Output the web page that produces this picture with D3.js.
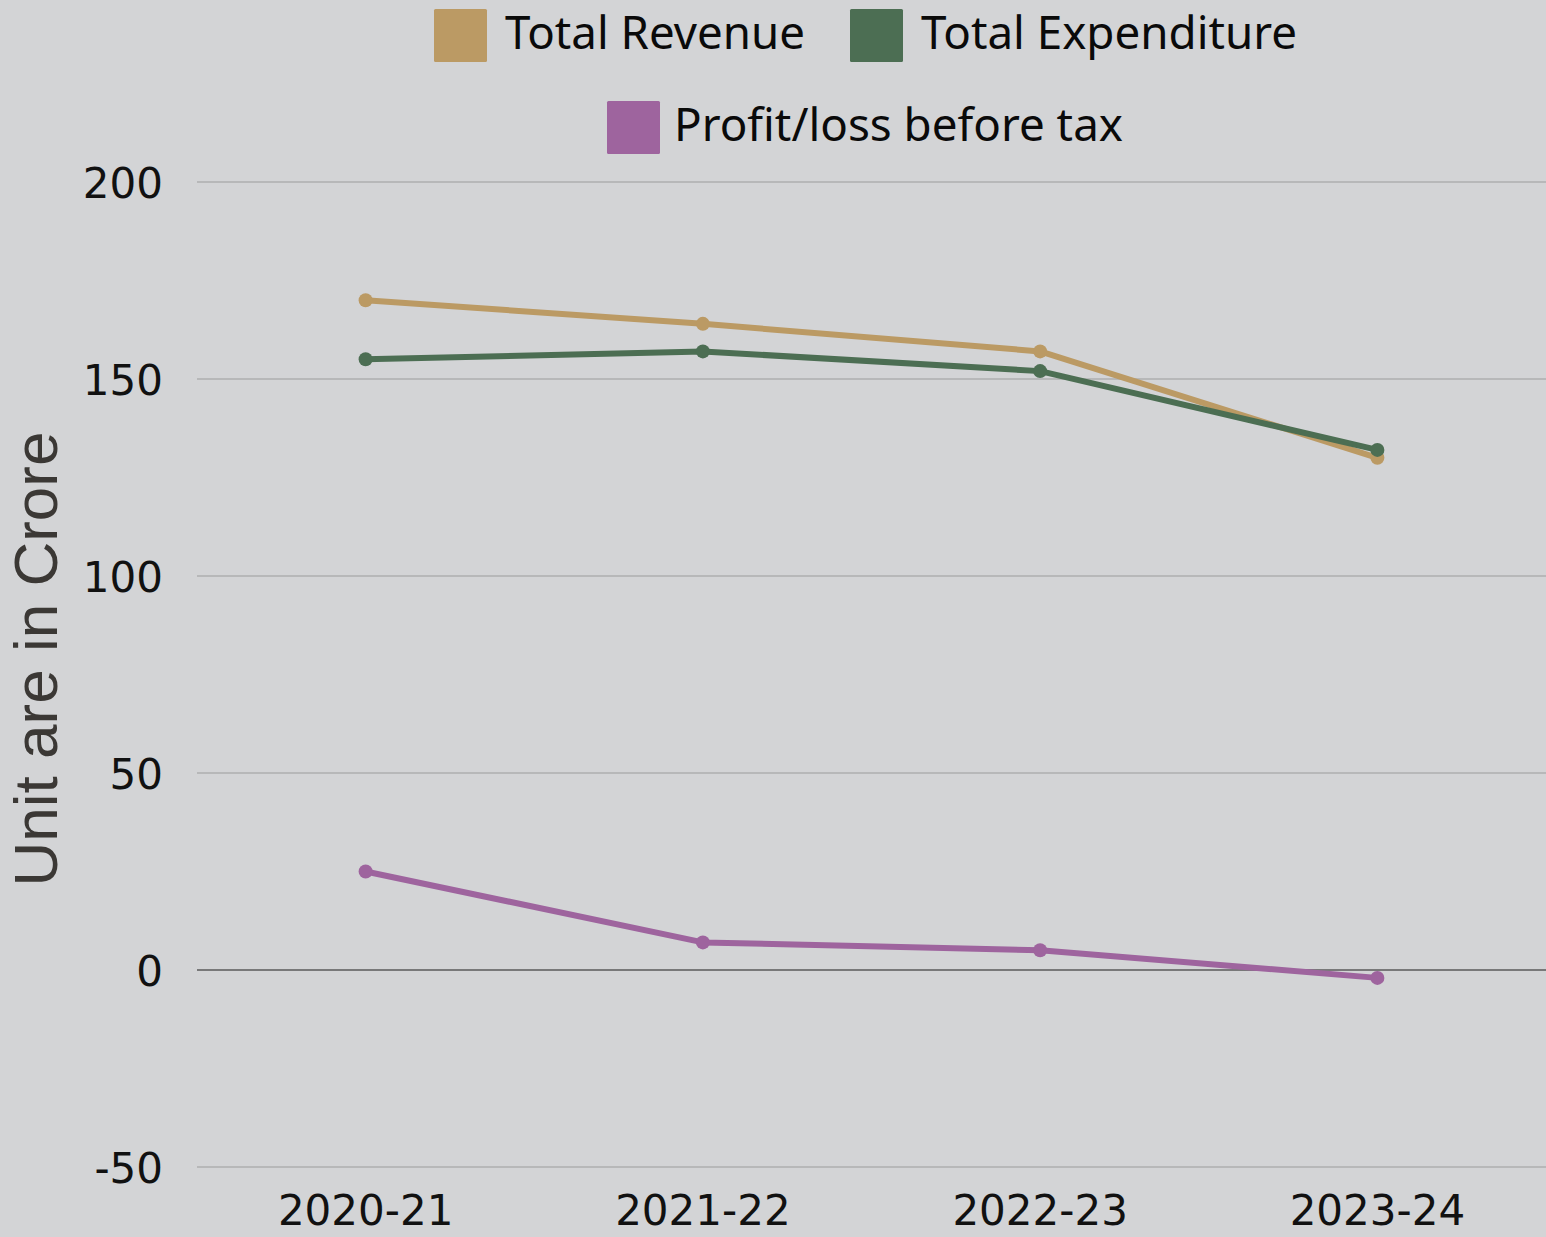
<!DOCTYPE html>
<html>
<head>
<meta charset="utf-8">
<script src="https://cdn.jsdelivr.net/npm/d3@7"></script>
<style>
  html, body { margin: 0; padding: 0; background: #d3d4d6; }
  svg { display: block; }
</style>
</head>
<body>
<svg id="chart" width="1546" height="1237"></svg>
<script>
// Financial years on the x axis
const years = ["2020-21", "2021-22", "2022-23", "2023-24"];
// Values in crore
const totalRevenue = [170, 164, 157, 130];
const totalExpenditure = [155, 157, 152, 132];
const profitBeforeTax = [25, 7, 5, -2];
// Y axis ticks
const yTicks = [-50, 0, 50, 100, 150, 200];

const seriesNames = ["Total Revenue", "Total Expenditure", "Profit/loss before tax"];
const seriesColors = ["#bb9a64", "#4c6e53", "#9e649e"];
const seriesValues = [totalRevenue, totalExpenditure, profitBeforeTax];

const svg = d3.select("#chart");
const W = 1546, H = 1237;
const margin = { left: 197, right: 0, top: 182, bottom: 70 };
const tickFont = "DejaVu Sans, Liberation Sans, sans-serif";

svg.append("rect").attr("width", W).attr("height", H).attr("fill", "#d3d4d6");

const x = d3.scalePoint().domain(years).range([margin.left, W - margin.right]).padding(0.5);
const y = d3.scaleLinear().domain([-50, 200]).range([1167, 182]);

// Horizontal grid lines
svg.append("g").selectAll("line").data(yTicks).join("line")
  .attr("x1", margin.left).attr("x2", W)
  .attr("y1", d => y(d)).attr("y2", d => y(d))
  .attr("stroke", d => d === 0 ? "#5a5a5a" : "#9b9b9b")
  .attr("stroke-width", d => d === 0 ? 1.6 : 1.2);

// Y tick labels
svg.append("g").selectAll("text").data(yTicks).join("text")
  .attr("x", 163).attr("y", d => y(d) + 16)
  .attr("text-anchor", "end")
  .attr("font-family", tickFont)
  .attr("font-size", 42)
  .attr("fill", "#111")
  .text(d => d);

// X tick labels
svg.append("g").selectAll("text").data(years).join("text")
  .attr("x", d => x(d)).attr("y", 1225)
  .attr("text-anchor", "middle")
  .attr("font-family", tickFont)
  .attr("font-size", 42)
  .attr("fill", "#111")
  .text(d => d);

// Y axis title
svg.append("text")
  .attr("transform", "translate(57,659) rotate(-90)")
  .attr("text-anchor", "middle")
  .attr("font-family", "Liberation Sans, Arial, sans-serif")
  .attr("font-size", 62)
  .attr("fill", "#3b3835")
  .text("Unit are in Crore");

// Lines and markers
const line = d3.line().x((d, i) => x(years[i])).y(d => y(d));
seriesValues.forEach((vals, s) => {
  const g = svg.append("g");
  g.append("path").datum(vals)
    .attr("d", line)
    .attr("fill", "none")
    .attr("stroke", seriesColors[s])
    .attr("stroke-width", 6)
    .attr("stroke-linejoin", "round");
  g.selectAll("circle").data(vals).join("circle")
    .attr("cx", (d, i) => x(years[i]))
    .attr("cy", d => y(d))
    .attr("r", 7)
    .attr("fill", seriesColors[s]);
});

// Legend
const legendItems = [
  { name: seriesNames[0], color: seriesColors[0], sx: 434, sy: 9, tx: 505, tw: 300 },
  { name: seriesNames[1], color: seriesColors[1], sx: 850, sy: 9, tx: 921, tw: 376 },
  { name: seriesNames[2], color: seriesColors[2], sx: 607, sy: 101, tx: 674, tw: 449 }
];
const lg = svg.append("g");
legendItems.forEach(it => {
  lg.append("rect").attr("x", it.sx).attr("y", it.sy)
    .attr("width", 53).attr("height", 53).attr("rx", 1.5)
    .attr("fill", it.color);
  lg.append("text")
    .attr("x", it.tx).attr("y", it.sy + 40)
    .attr("font-family", "Noto Sans, Open Sans, sans-serif")
    .attr("font-size", 45)
    .attr("fill", "#0a0a0a")
    .attr("textLength", it.tw)
    .attr("lengthAdjust", "spacingAndGlyphs")
    .text(it.name);
});
</script>
</body>
</html>
